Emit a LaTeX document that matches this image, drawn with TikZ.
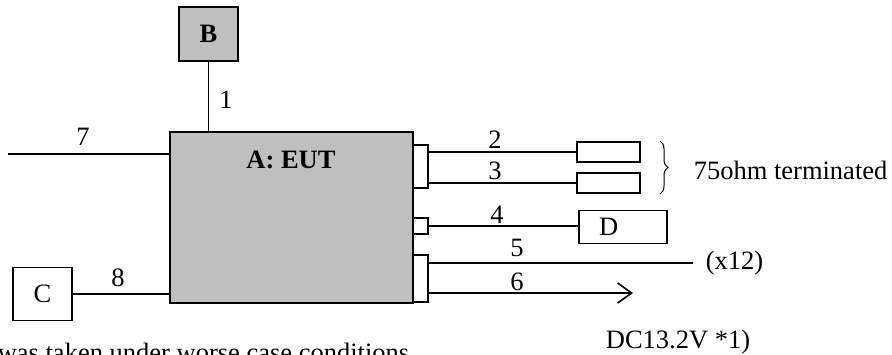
\documentclass[tikz,border=0pt]{standalone}
\usepackage{fontspec}
\setmainfont{Liberation Serif}
\usetikzlibrary{arrows.meta,decorations.pathreplacing}

\begin{document}
\begin{tikzpicture}[x=1pt,y=-1pt,line width=1.6pt,font=\fontsize{26.5}{30}\selectfont]
  \tikzstyle{unit}=[draw,fill=black!25,inner sep=0pt]
  \tikzstyle{plug}=[draw,fill=white,inner sep=0pt,minimum width=15pt]
  \tikzstyle{load}=[draw,inner sep=0pt,minimum width=63pt,minimum height=20pt]
  \tikzstyle{lbl}=[inner sep=0pt]

  \useasboundingbox (0,0) rectangle (892,354);

  % Draw the units
  \node[unit, minimum width=243pt, minimum height=171pt] (A) at (291.5,217.5) {};
  \node[lbl] (eut) at (291,160) {\bfseries A: EUT};
  \node[unit, minimum width=59pt, minimum height=54pt] (B) at (208.5,34) {\bfseries B};
  \node[draw, inner sep=0pt, minimum width=59pt, minimum height=53pt] (C) at (42.5,294) {C};
  \node[draw, inner xsep=20pt, text width=48pt, align=left, minimum height=33pt] (D) at (623,227) {D};

  % Draw the plugs on the right side
  \node[plug, minimum height=43pt] (P23) at (420.5,166.5) {};
  \node[plug, minimum height=16pt] (P4) at (420.5,226) {};
  \node[plug, minimum height=47pt] (P56) at (420.5,278.5) {};

  % Draw the 75 ohm loads
  \foreach \name / \y in {2/152,3/183}
  \node[load] (T\name) at (608.5,\y) {};

  % Free ends
  \coordinate (end7) at (8,154);
  \coordinate (end5) at (693,263);
  \coordinate (end6) at (633,293);
  \coordinate (brtop) at (660,141);
  \coordinate (brbot) at (660,194);

  % Connect nodes
  \draw (B.south) -- (B.south |- A.north);
  \draw (end7) -- (end7 -| A.west);
  \draw (C.east) -- (C.east -| A.west);
  \foreach \name in {2,3}
  \draw (T\name.west -| P23.east) -- (T\name.west);
  \draw (P4.east) -- (P4.east -| D.west);
  \draw (end5 -| P56.east) -- (end5);
  \draw[-{Straight Barb[length=14pt,width=20pt]}] (end6 -| P56.east) -- (end6);
  \draw[decorate, decoration={brace,amplitude=8pt}, line width=1pt] (brtop) -- (brbot);

  % Cable numbers
  \foreach \name / \x / \y in {1/226/100, 7/83/137, 8/118/278, 2/495/140,
    3/495/171, 4/497/215, 5/517/248, 6/517/282}
  \node[lbl] (n\name) at (\x,\y) {\name};

  % Notes
  \node[lbl, anchor=west] (term) at (693,170) {75ohm terminated};
  \node[lbl, anchor=west] (x12) at (705,263) {(x12)};
  \node[lbl, anchor=base] (dc) at (678,348) {DC13.2V *1)};
  \node[lbl, anchor=base west] (note) at (-3,361) {was taken under worse case conditions.};
\end{tikzpicture}
\end{document}
